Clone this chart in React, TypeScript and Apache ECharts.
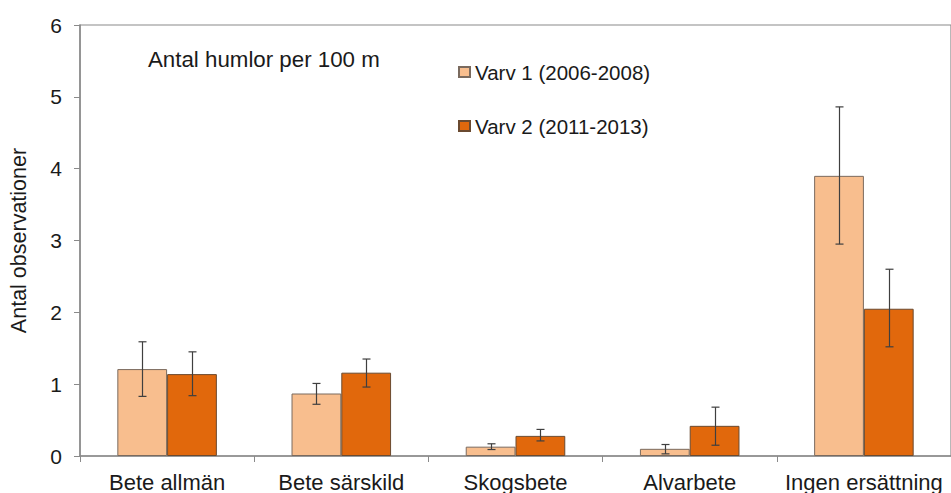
import React, { useEffect, useRef } from "react";
import * as echarts from "echarts";

const categories = ["Bete allmän", "Bete särskild", "Skogsbete", "Alvarbete", "Ingen ersättning"];
const seriesNames = ["Varv 1 (2006-2008)", "Varv 2 (2011-2013)"];
const varv1 = [1.21, 0.87, 0.13, 0.1, 3.9];
const varv2 = [1.14, 1.16, 0.28, 0.42, 2.05];
const varv1Low = [0.83, 0.72, 0.09, 0.03, 2.95];
const varv1High = [1.59, 1.01, 0.17, 0.16, 4.86];
const varv2Low = [0.84, 0.96, 0.21, 0.15, 1.52];
const varv2High = [1.45, 1.35, 0.37, 0.68, 2.6];
const yTicks = [0, 1, 2, 3, 4, 5, 6];
const titleText = "Antal humlor per 100 m";
const yAxisName = "Antal observationer";

const FONT = "'Liberation Sans', Arial, sans-serif";
const COLORS = ["#F8BE8E", "#E1680C"];
const GAP_FRAC = 0.4286;

function errorSeries(name: string, lows: number[], highs: number[], sign: number) {
  return {
    type: "custom",
    name: name + " err",
    z: 5,
    silent: true,
    data: lows.map((lo, i) => [i, lo, highs[i]]),
    renderItem: (params: any, api: any) => {
      const i = api.value(0);
      const bw = api.size([1, 0])[0];
      const off = (sign * bw * (1 - GAP_FRAC)) / 4;
      const lo = api.coord([i, api.value(1)]);
      const hi = api.coord([i, api.value(2)]);
      const x = Math.round(lo[0] + off) + 0.5;
      const cap = 4;
      const style = { stroke: "#3f3f3f", lineWidth: 1.2 };
      return {
        type: "group",
        children: [
          { type: "line", shape: { x1: x, y1: lo[1], x2: x, y2: hi[1] }, style },
          { type: "line", shape: { x1: x - cap, y1: lo[1], x2: x + cap, y2: lo[1] }, style },
          { type: "line", shape: { x1: x - cap, y1: hi[1], x2: x + cap, y2: hi[1] }, style },
        ],
      };
    },
  };
}

export default function App() {
  const ref = useRef<HTMLDivElement>(null);
  useEffect(() => {
    if (!ref.current) return;
    const chart = echarts.init(ref.current, null, { renderer: "svg" });
    chart.setOption({
      animation: false,
      backgroundColor: "#ffffff",
      textStyle: { fontFamily: FONT },
      grid: {
        left: 80,
        top: 25,
        width: 875,
        height: 432,
        show: true,
        borderColor: "#8a8a8a",
        borderWidth: 1.2,
        backgroundColor: "transparent",
      },
      graphic: [
        {
          type: "text",
          x: 148,
          y: 59,
          style: {
            text: titleText,
            fontSize: 22.3,
            fontFamily: FONT,
            fill: "#1a1a1a",
            verticalAlign: "middle",
            textVerticalAlign: "middle",
          },
        },
      ],
      legend: {
        data: seriesNames,
        orient: "vertical",
        left: 453,
        top: 55,
        itemWidth: 11,
        itemHeight: 10,
        itemGap: 30,
        icon: "rect",
        textStyle: { fontSize: 20.5, fontFamily: FONT, color: "#1a1a1a", lineHeight: 24 },
      },
      xAxis: {
        type: "category",
        data: categories,
        axisLine: { lineStyle: { color: "#8a8a8a", width: 1.5 } },
        axisTick: { show: true, length: 6, alignWithLabel: false, lineStyle: { color: "#8a8a8a" } },
        axisLabel: { fontSize: 22, fontFamily: FONT, color: "#1a1a1a", margin: 15, interval: 0 },
        splitLine: { show: false },
      },
      yAxis: {
        type: "value",
        min: yTicks[0],
        max: yTicks[yTicks.length - 1],
        interval: 1,
        name: yAxisName,
        nameLocation: "middle",
        nameRotate: 90,
        nameGap: 50,
        nameTextStyle: { fontSize: 21.5, fontFamily: FONT, color: "#1a1a1a" },
        axisLine: { show: true, lineStyle: { color: "#8a8a8a", width: 1.5 } },
        axisTick: { show: true, length: 6, lineStyle: { color: "#8a8a8a" } },
        axisLabel: { fontSize: 21, fontFamily: FONT, color: "#1a1a1a", margin: 18 },
        splitLine: { show: false },
      },
      series: [
        {
          type: "bar",
          name: seriesNames[0],
          data: varv1,
          barGap: "0%",
          barCategoryGap: GAP_FRAC * 100 + "%",
          itemStyle: { color: COLORS[0], borderColor: "#7a6a5e", borderWidth: 1 },
        },
        {
          type: "bar",
          name: seriesNames[1],
          data: varv2,
          barGap: "0%",
          barCategoryGap: GAP_FRAC * 100 + "%",
          itemStyle: { color: COLORS[1], borderColor: "#6a4a30", borderWidth: 1 },
        },
        errorSeries(seriesNames[0], varv1Low, varv1High, -1),
        errorSeries(seriesNames[1], varv2Low, varv2High, 1),
      ],
    });
    return () => chart.dispose();
  }, []);
  return (
    <div
      ref={ref}
      style={{ position: "fixed", left: 0, top: 0, width: 951, height: 493, background: "#fff" }}
    />
  );
}
